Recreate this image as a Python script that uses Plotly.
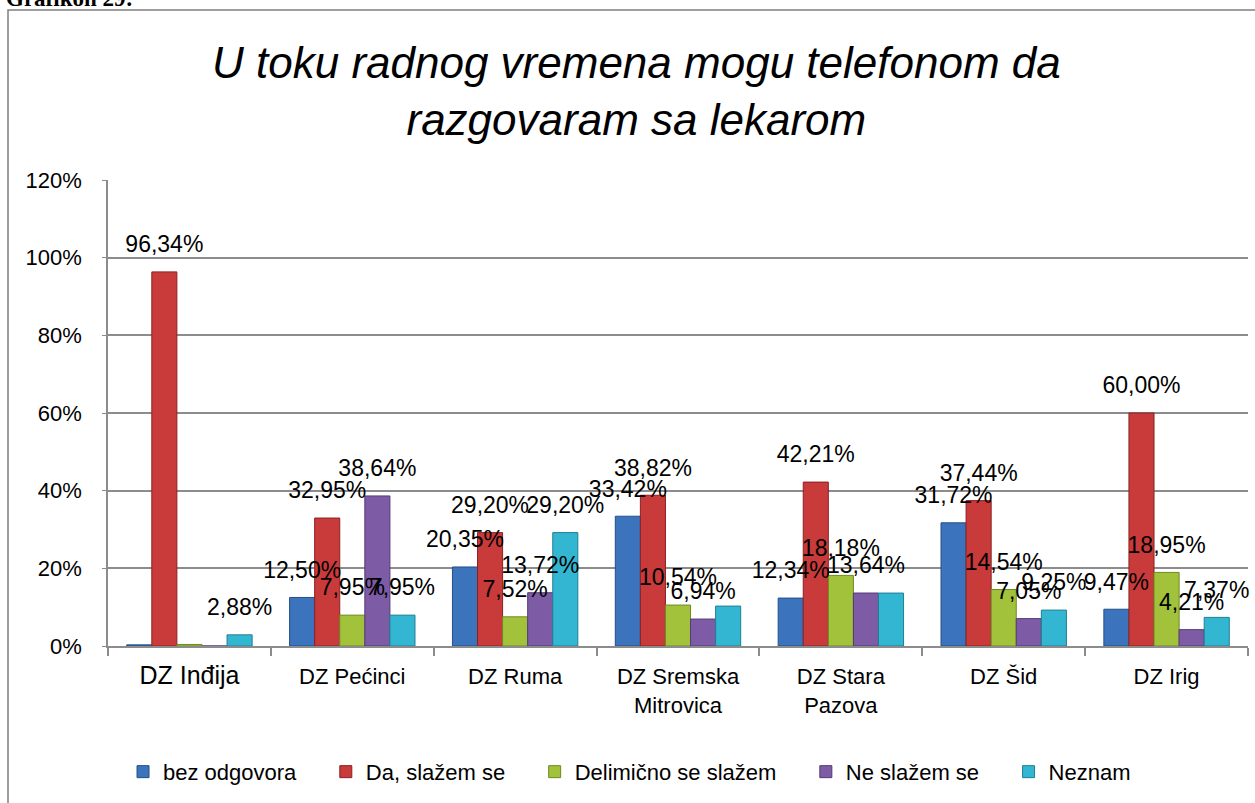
import plotly.graph_objects as go

categories = ["DZ Inđija", "DZ Pećinci", "DZ Ruma", "DZ Sremska<br>Mitrovica",
              "DZ Stara<br>Pazova", "DZ Šid", "DZ Irig"]
tick_labels = ["<span style='font-size:25px'>DZ Inđija</span>", "DZ Pećinci", "DZ Ruma",
               "DZ Sremska<br>Mitrovica", "DZ Stara<br>Pazova", "DZ Šid", "DZ Irig"]

series_names = ["bez odgovora", "Da, slažem se", "Delimično se slažem", "Ne slažem se", "Neznam"]
bez_odgovora = [0.3, 12.50, 20.35, 33.42, 12.34, 31.72, 9.47]
da_slazem = [96.34, 32.95, 29.20, 38.82, 42.21, 37.44, 60.00]
delimicno = [0.4, 7.95, 7.52, 10.54, 18.18, 14.54, 18.95]
ne_slazem = [0.0, 38.64, 13.72, 6.94, 13.64, 7.05, 4.21]
neznam = [2.88, 7.95, 29.20, 10.28, 13.63, 9.25, 7.37]
# which values carry a visible data label in the reference
show_label = [
    [False, True, True, True, True, True, True],
    [True, True, True, True, True, True, True],
    [False, True, True, True, True, True, True],
    [False, True, True, True, True, True, True],
    [True, True, True, False, False, True, True],
]
y_ticks = [0, 20, 40, 60, 80, 100, 120]
y_tick_text = [f"{v}%" for v in y_ticks]

colors = ["#3B73BD", "#C93A3A", "#A3C23C", "#7D5CA5", "#33B6D1"]
edge = ["#244F86", "#8A2222", "#6E8A22", "#54397A", "#1F7F93"]
LABEL_LIFT = 3.0  # label gap above the bar, in axis units (style only)
LEGEND_PAD = "\u00a0" * 4

values = [bez_odgovora, da_slazem, delimicno, ne_slazem, neznam]

fig = go.Figure()
# coloured bars
for i, (name, vals, col, ed) in enumerate(zip(series_names, values, colors, edge)):
    fig.add_trace(go.Bar(
        name=name + LEGEND_PAD, x=categories, y=vals, offsetgroup=str(i),
        marker=dict(color=col, line=dict(color=ed, width=1)),
    ))
# data labels drawn on top of every bar (transparent twins of the bars)
for i, (name, vals, shows) in enumerate(zip(series_names, values, show_label)):
    txt = [(f"{v:.2f}%".replace(".", ",") if s else "") for v, s in zip(vals, shows)]
    fig.add_trace(go.Bar(
        name=name, x=categories, y=vals, base=LABEL_LIFT, offsetgroup=str(i),
        text=txt, textposition="outside", constraintext="none", cliponaxis=False,
        textfont=dict(family="Liberation Sans", size=23, color="#000000"),
        marker=dict(color="rgba(0,0,0,0)", line=dict(width=0)),
        showlegend=False, hoverinfo="skip",
    ))

fig.update_layout(
    width=1255, height=803,
    paper_bgcolor="white", plot_bgcolor="white",
    margin=dict(l=108, r=7, t=180, b=157, autoexpand=False),
    barmode="group", bargap=0.23, bargroupgap=0,
    font=dict(family="Liberation Sans", color="#000000"),
    legend=dict(orientation="h", x=0.468, xanchor="center", y=-0.225, yanchor="top",
                font=dict(family="Liberation Sans", size=22), itemwidth=30,
                traceorder="normal"),
    showlegend=True,
)
fig.update_xaxes(
    tickvals=categories, ticktext=tick_labels,
    tickfont=dict(family="Liberation Sans", size=22),
    showline=True, linecolor="#8c8c8c", linewidth=1.5,
    ticks="outside", tickson="boundaries", ticklen=8, tickcolor="#8c8c8c", tickwidth=1.5,
    showgrid=False, automargin=False, ticklabelstandoff=10,
)
fig.update_yaxes(
    range=[0, 120], tickvals=y_ticks, ticktext=y_tick_text,
    tickfont=dict(family="Liberation Sans", size=22),
    showgrid=True, gridcolor="#8c8c8c", gridwidth=1.5,
    showline=True, linecolor="#8c8c8c", linewidth=1.5,
    ticks="outside", ticklen=4, tickcolor="#8c8c8c", zeroline=False,
    ticklabelstandoff=16, automargin=False,
)

# chart title
fig.add_annotation(text="<i>U toku radnog vremena mogu telefonom da<br>razgovaram sa lekarom</i>",
                   xref="paper", yref="paper",
                   x=(636 - 108) / 1140, y=(646 - 36) / 466, xanchor="center", yanchor="top",
                   showarrow=False, align="center",
                   font=dict(family="Liberation Sans", size=44, color="#000000"))

# outer chart frame (extends past the right and bottom edge of the picture)
fig.add_shape(type="rect", xref="paper", yref="paper",
              x0=(8 - 108) / 1140, x1=(1262 - 108) / 1140,
              y0=(646 - 812) / 466, y1=(646 - 10) / 466,
              line=dict(color="#7f7f7f", width=1.5), fillcolor="rgba(0,0,0,0)", layer="below")

fig.add_annotation(text="<b>Grafikon 29:</b>", xref="paper", yref="paper",
                   x=(4 - 108) / 1140, y=(646 - 13) / 466, xanchor="left", yanchor="bottom",
                   showarrow=False, font=dict(family="Liberation Serif", size=23, color="#000000"))

fig.write_html("out.html", config={"displayModeBar": False},
               post_script="document.body.style.margin='0';document.body.style.overflow='hidden';")
